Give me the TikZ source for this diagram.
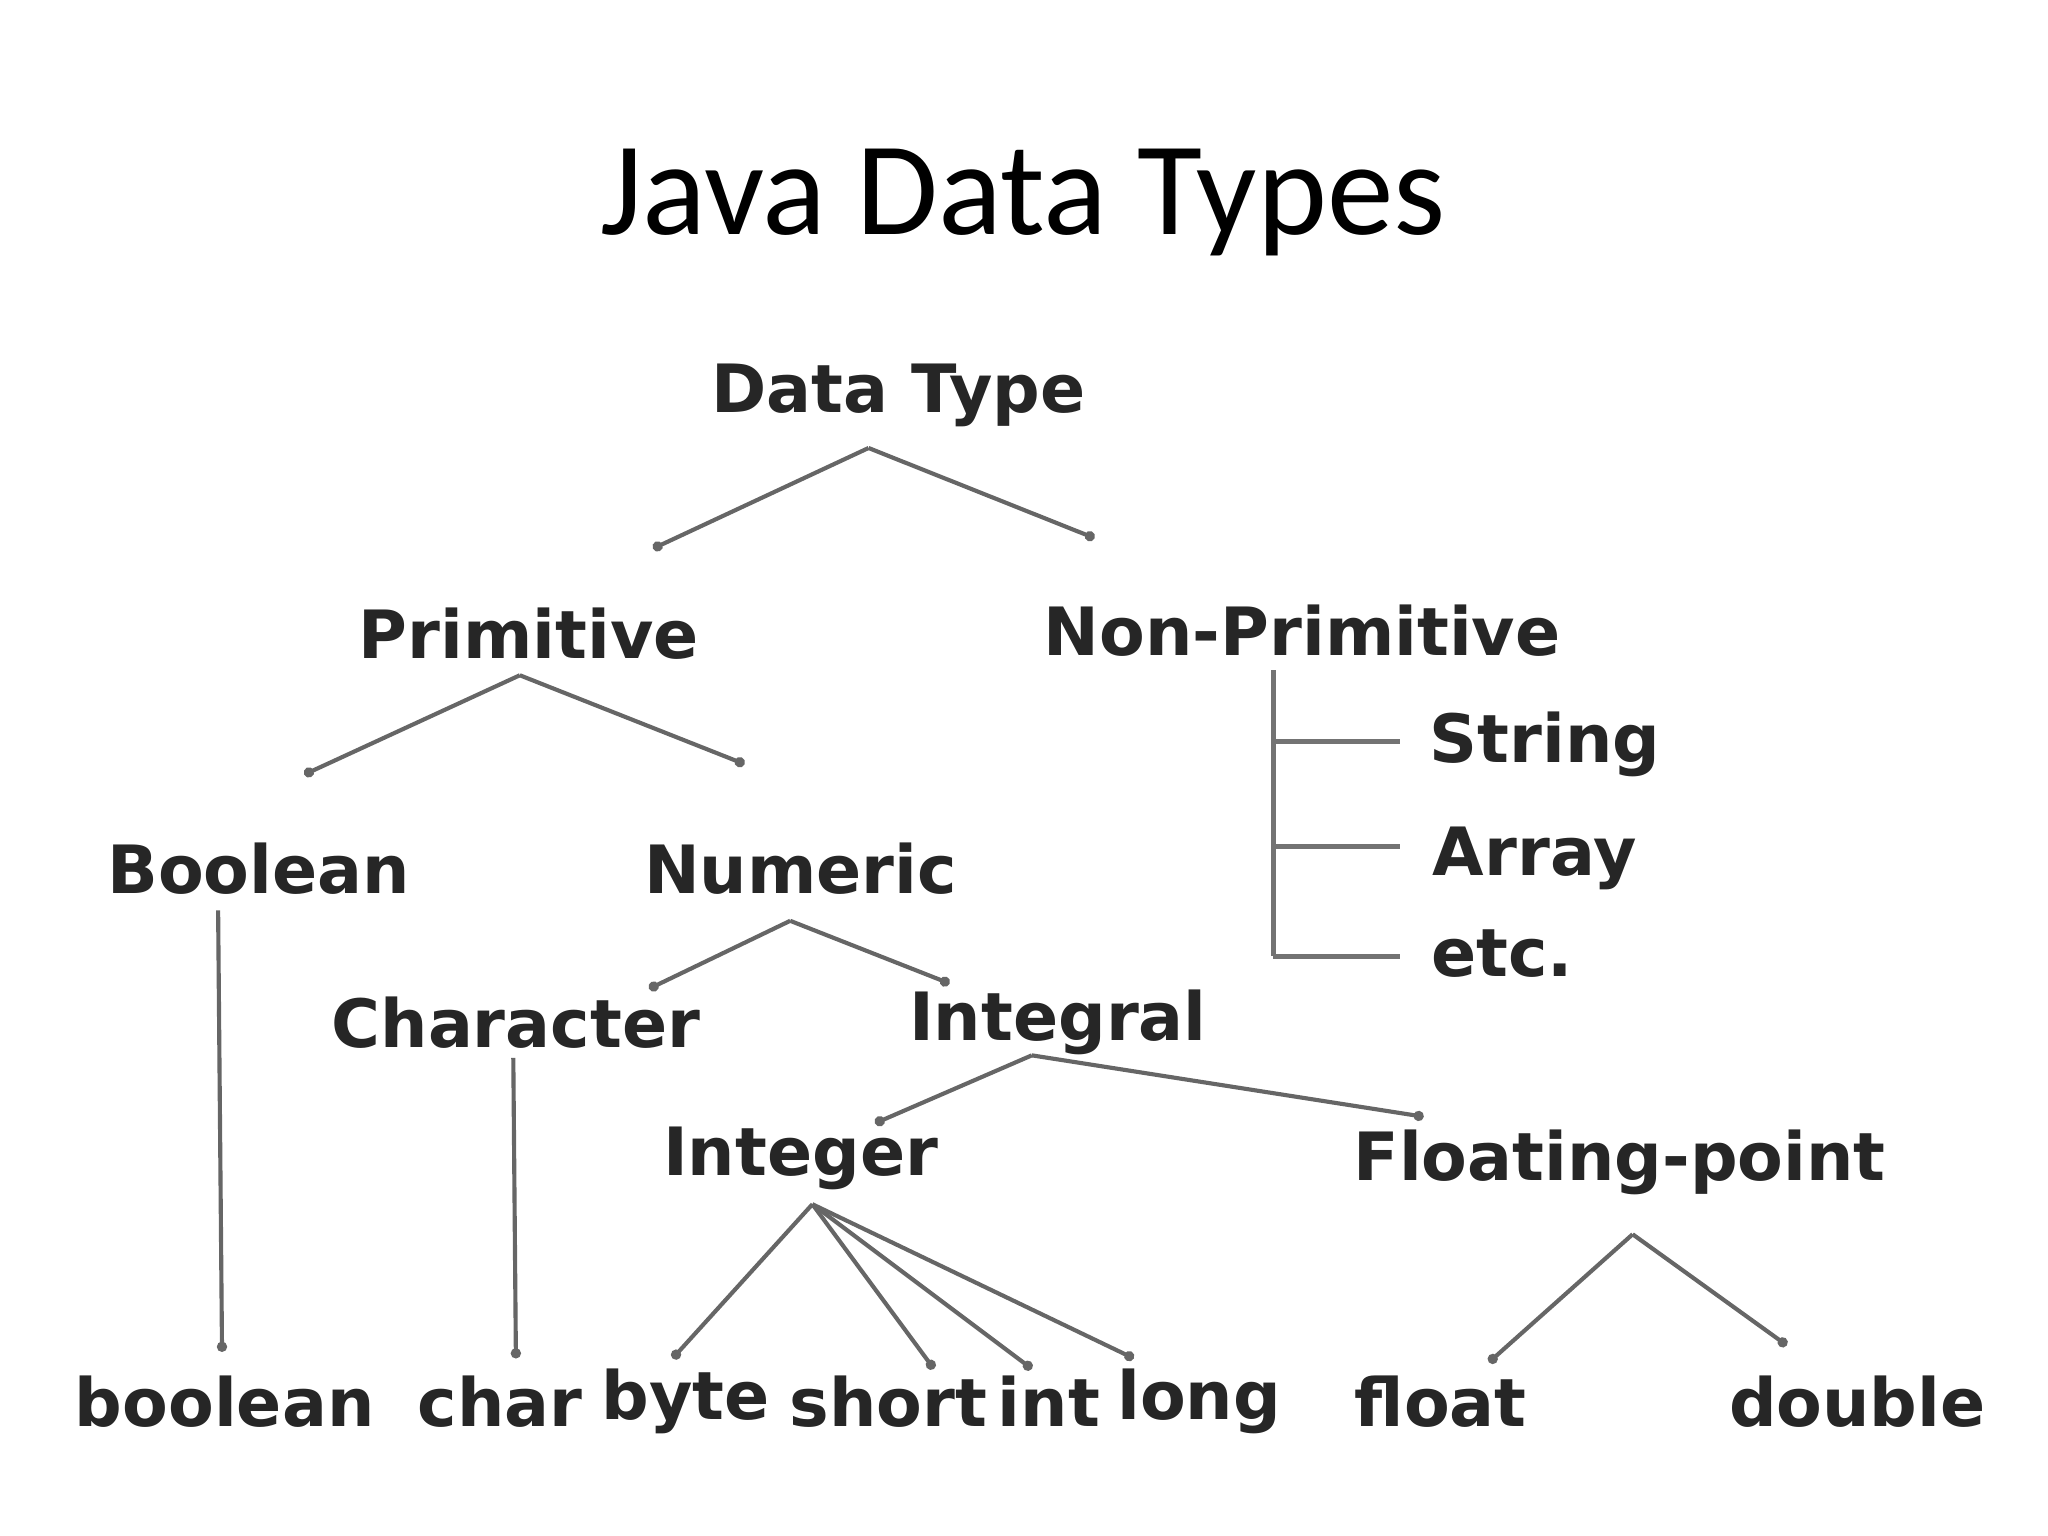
\documentclass[tikz,border=0pt]{standalone}
\usepackage{fontspec}
\setmainfont{DejaVu Sans}
\newfontfamily\titlefont{Carlito}
\usetikzlibrary{arrows.meta}
\begin{document}
\begin{tikzpicture}[x=0.01cm,y=-0.01cm,
  lbl/.style={font=\bfseries\fontsize{14.5}{16}\selectfont, text=black!85, inner sep=0pt},
  conn/.style={draw=black!60, line width=0.9pt, -{Circle[length=2.2pt]}},
  plain/.style={draw=black!55, line width=1.1pt}]
\useasboundingbox (0,0) rectangle (1568,1176);
\node[font=\titlefont\fontsize{29}{32}\selectfont] (title) at (783,155) {Java Data Types};
\node[lbl] (dt) at (688,303) {Data Type};
\node[lbl] (prim) at (405,485) {Primitive};
\node[lbl] (np) at (997,483) {Non-Primitive};
\node[lbl] (str) at (1183,570) {String};
\node[lbl] (arr) at (1175,657) {Array};
\node[lbl] (etc) at (1150,730) {etc.};
\node[lbl] (bool) at (198,665) {Boolean};
\node[lbl] (num) at (613,665) {Numeric};
\node[lbl] (chr) at (395,783) {Character};
\node[lbl] (intl) at (810,783) {Integral};
\node[lbl] (intg) at (613,887) {Integer};
\node[lbl] (flt) at (1240,890) {Floating-point};
\foreach \n/\x/\t in {b/172/boolean,c/383/char,by/525/byte,s/680/short,i/803/int,l/918/long,f/1103/float,d/1422/double}
  \node[lbl] (\n) at (\x,1073) {\t};
% coordinates
\coordinate (dtb) at (665,343);
\coordinate (pt) at (500,420);
\coordinate (npt) at (838,412);
\coordinate (pb) at (398,517);
\coordinate (bt) at (233,593);
\coordinate (nt) at (570,585);
\coordinate (nb) at (605,705);
\coordinate (ct) at (497,757);
\coordinate (it) at (727,753);
\coordinate (ib) at (790,808);
\coordinate (igt) at (670,860);
\coordinate (ft) at (1090,855);
\coordinate (igb) at (622,922);
\coordinate (fb) at (1250,945);
\draw[conn] (dtb) -- (pt);
\draw[conn] (dtb) -- (npt);
\draw[conn] (pb) -- (bt);
\draw[conn] (pb) -- (nt);
\draw[conn] (nb) -- (ct);
\draw[conn] (nb) -- (it);
\draw[conn] (ib) -- (igt);
\draw[conn] (ib) -- (ft);
\draw[conn] (167,697) -- (170,1035);
\draw[conn] (393,810) -- (395,1040);
\draw[conn] (igb) -- (515,1040);
\draw[conn] (igb) -- (715,1048);
\draw[conn] (igb) -- (790,1048);
\draw[conn] (igb) -- (868,1040);
\draw[conn] (fb) -- (1140,1043);
\draw[conn] (fb) -- (1368,1030);
\draw[plain] (975,513) -- (975,732);
\draw[plain] (975,568) -- (1072,568);
\draw[plain] (975,648) -- (1072,648);
\draw[plain] (975,732) -- (1072,732);
\end{tikzpicture}
\end{document}
